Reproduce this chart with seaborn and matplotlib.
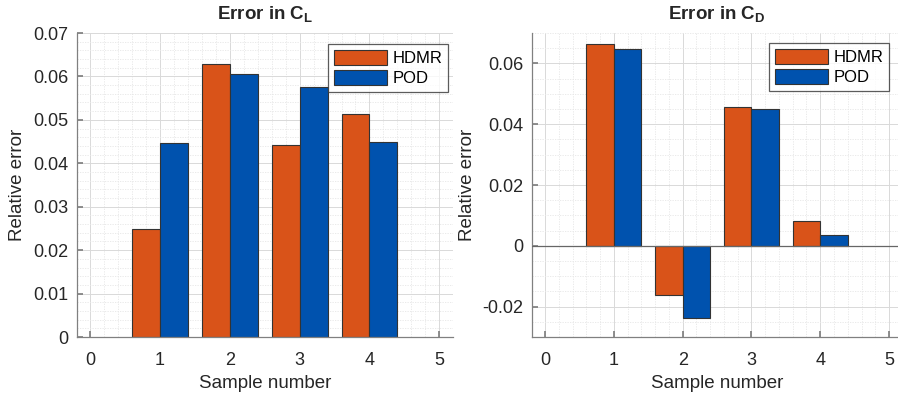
import numpy as np
import pandas as pd
import matplotlib
matplotlib.use("Agg")
import matplotlib.pyplot as plt
from matplotlib.ticker import MultipleLocator
import seaborn as sns

samples = [1, 2, 3, 4]
methods = ["HDMR", "POD"]
cl_hdmr = [0.0248, 0.0628, 0.0441, 0.0513]
cl_pod = [0.0446, 0.0606, 0.0575, 0.0449]
cd_hdmr = [0.0663, -0.0162, 0.0457, 0.0082]
cd_pod = [0.0649, -0.0236, 0.0449, 0.0036]
colors = ["#D95319", "#0052AE"]

def long_df(h, p):
    return pd.DataFrame({
        "Sample": samples * 2,
        "Method": ["HDMR"] * len(samples) + ["POD"] * len(samples),
        "Error": list(h) + list(p),
    })

sns.set_theme(style="white")
plt.rcParams["font.family"] = ["Liberation Sans", "DejaVu Sans"]
plt.rcParams["mathtext.fontset"] = "custom"
plt.rcParams["mathtext.bf"] = "Liberation Sans:bold"
plt.rcParams["mathtext.rm"] = "Liberation Sans"

fig = plt.figure(figsize=(8.98, 4.01), dpi=100)
axL = fig.add_axes([0.0857, 0.1596, 0.4182, 0.7581])
axR = fig.add_axes([0.5924, 0.1596, 0.4122, 0.7581])

panels = [
    (axL, long_df(cl_hdmr, cl_pod), r"Error in $\mathbf{C_L}$", (0, 0.07), 0.01, 0.002),
    (axR, long_df(cd_hdmr, cd_pod), r"Error in $\mathbf{C_D}$", (-0.03, 0.07), 0.02, 0.005),
]

for ax, df, title, ylim, ymaj, ymin in panels:
    ax.set_axisbelow(True)
    sns.barplot(data=df, x="Sample", y="Error", hue="Method", hue_order=methods,
                palette=colors, native_scale=True, errorbar=None, ax=ax,
                edgecolor="#333333", linewidth=0.8, saturation=1)
    ax.set_xlim(-0.19, 5.19)
    ax.set_ylim(*ylim)
    ax.xaxis.set_major_locator(MultipleLocator(1))
    ax.xaxis.set_minor_locator(MultipleLocator(0.2))
    ax.yaxis.set_major_locator(MultipleLocator(ymaj))
    ax.yaxis.set_minor_locator(MultipleLocator(ymin))
    ax.grid(which="major", color="#d9d9d9", linewidth=0.7)
    ax.grid(which="minor", color="#e6e6e6", linewidth=0.6, linestyle=(0, (1.5, 1.5)))
    for s in ["top", "right"]:
        ax.spines[s].set_visible(False)
    for s in ["left", "bottom"]:
        ax.spines[s].set_color("#808080")
        ax.spines[s].set_linewidth(0.9)
    ax.tick_params(which="major", direction="in", length=4, color="#808080",
                   labelsize=13, labelcolor="#262626", left=True, bottom=True)
    ax.tick_params(axis="x", which="major", pad=11)
    ax.tick_params(axis="y", which="major", pad=6)
    ax.tick_params(which="minor", length=0)
    ax.set_xlabel("Sample number", fontsize=13.5, color="#262626", labelpad=4)
    ax.set_ylabel("Relative error", fontsize=13.5, color="#262626", labelpad=5)
    ax.set_title(title, fontsize=13.5, fontweight="bold", pad=10)
    ax.yaxis.set_major_formatter(matplotlib.ticker.FuncFormatter(
        lambda v, p: "0" if abs(v) < 1e-12 else f"{v:g}"))
    leg = ax.legend(title=None, loc="upper right", fontsize=12, frameon=True,
                    fancybox=False, edgecolor="#333333", handlelength=3.2,
                    handleheight=1.05, borderaxespad=0, labelspacing=0.2,
                    handletextpad=0.3, borderpad=0.35)
    leg.get_frame().set_linewidth(0.9)
    for t in leg.get_texts():
        t.set_color("black")

axR.axhline(0, color="#666666", linewidth=0.9, zorder=3)
axL.legend_.set_bbox_to_anchor((0.988, 0.964))
axR.legend_.set_bbox_to_anchor((0.965, 0.967))

fig.savefig("out.png", dpi=100)
